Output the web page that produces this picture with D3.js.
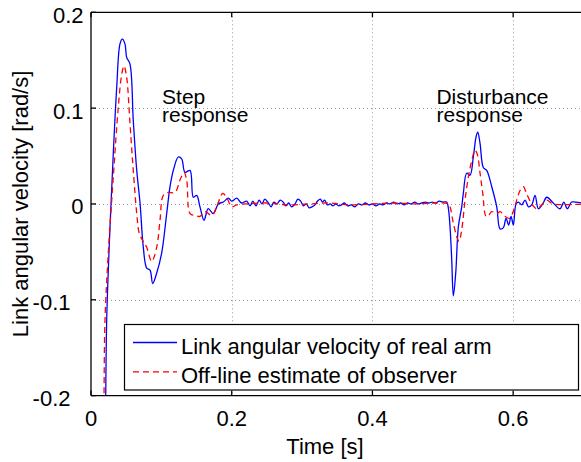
<!DOCTYPE html>
<html>
<head>
<meta charset="utf-8">
<script src="https://cdn.jsdelivr.net/npm/d3@7"></script>
<style>
  body { margin: 0; background: #fff; }
  text { font-family: "Liberation Sans", Arial, sans-serif; fill: #000; }
</style>
</head>
<body>
<div id="content"></div>
<script>
// tick values
const xTicks = [0, 0.2, 0.4, 0.6];
const yTicks = [-0.2, -0.1, 0, 0.1, 0.2];

// link angular velocity of real arm [t, v]
const realArm = [
  [0.0195,-0.26],[0.0209,-0.2],[0.0223,-0.121],[0.0270,-0.024],[0.0317,0.053],[0.0365,0.121],
  [0.0412,0.167],[0.0445,0.172],[0.0483,0.167],[0.0507,0.153],[0.0554,0.146],[0.0601,0.087],
  [0.0650,0.035],[0.0697,0.001],[0.0743,-0.045],[0.0792,-0.067],[0.0839,-0.069],[0.0877,-0.083],
  [0.0934,-0.072],[0.1005,-0.051],[0.1076,-0.010],[0.1123,0.018],[0.1170,0.035],[0.1241,0.049],
  [0.1289,0.047],[0.1336,0.033],[0.1407,0.035],[0.1454,0.007],[0.1502,0.009],[0.1549,-0.003],
  [0.1606,-0.017],[0.1667,-0.005],[0.1738,-0.010],[0.1810,0.000],[0.1881,0.002],[0.1952,0.006],
  [0.2000,0.003],[0.2071,0.006],[0.2140,0.001],[0.2213,0.003],[0.2260,-0.002],[0.2300,0.003],
  [0.2345,-0.002],[0.2390,0.004],[0.2430,0.000],[0.2470,0.005],[0.2520,0.001],[0.2560,-0.003],
  [0.2600,0.002],[0.2640,0.000],[0.2690,0.004],[0.2730,0.002],[0.2770,-0.002],[0.2810,0.001],
  [0.2850,-0.003],[0.2900,0.000],[0.2940,0.005],[0.2980,0.003],[0.3020,-0.002],[0.3060,0.000],
  [0.3100,-0.004],[0.3140,-0.003],[0.3180,-0.001],[0.3220,0.003],[0.3260,0.005],[0.3290,0.002],
  [0.3320,0.004],[0.3360,-0.001],[0.3400,0.000],[0.3440,-0.002],[0.3480,0.000],[0.3520,-0.002],
  [0.3560,-0.001],[0.3600,0.001],[0.3650,-0.002],[0.3700,-0.001],[0.3750,-0.003],[0.3800,0.000],
  [0.3850,-0.001],[0.3900,0.001],[0.3950,-0.001],[0.4000,0.000],[0.4050,-0.002],[0.4100,0.000],
  [0.4150,-0.001],[0.4200,0.001],[0.4250,0.000],[0.4300,0.002],[0.4350,0.000],[0.4400,0.001],
  [0.4450,-0.001],[0.4500,0.001],[0.4550,0.000],[0.4600,0.002],[0.4650,0.000],[0.4700,0.001],
  [0.4750,0.002],[0.4800,0.001],[0.4850,0.002],[0.4900,0.001],[0.4950,0.003],[0.5000,0.002],
  [0.5056,0.002],[0.5080,-0.005],[0.5103,-0.024],[0.5127,-0.058],[0.5150,-0.096],[0.5184,-0.072],
  [0.5221,-0.024],[0.5269,-0.003],[0.5292,0.011],[0.5340,0.032],[0.5387,0.030],[0.5434,0.049],
  [0.5473,0.070],[0.5497,0.075],[0.5530,0.063],[0.5576,0.038],[0.5624,0.035],[0.5696,0.018],
  [0.5767,-0.003],[0.5814,-0.026],[0.5860,-0.025],[0.5899,-0.015],[0.5937,-0.022],[0.5970,-0.013],
  [0.6003,-0.022],[0.6041,0.000],[0.6075,0.002],[0.6122,-0.001],[0.6170,0.004],[0.6217,-0.003],
  [0.6264,-0.001],[0.6311,0.009],[0.6359,-0.005],[0.6420,0.000],[0.6478,0.007],[0.6570,0.001],
  [0.6667,-0.005],[0.6720,0.002],[0.6770,-0.005],[0.6830,0.002],[0.6880,0.002],[0.6970,0.001],
  [0.7000,0.000]
];

// off-line estimate of observer [t, v]
const observer = [
  [0.0178,-0.26],[0.0185,-0.2],[0.0199,-0.121],[0.0246,-0.051],[0.0317,0.028],[0.0388,0.101],
  [0.0436,0.135],[0.0469,0.144],[0.0507,0.132],[0.0554,0.084],[0.0601,0.035],[0.0650,-0.010],
  [0.0687,-0.031],[0.0743,-0.039],[0.0790,-0.045],[0.0863,-0.060],[0.0934,-0.045],[0.0981,-0.017],
  [0.1028,0.009],[0.1099,0.012],[0.1194,0.012],[0.1265,0.025],[0.1322,0.033],[0.1360,0.025],
  [0.1407,-0.010],[0.1478,-0.012],[0.1549,-0.013],[0.1620,-0.008],[0.1716,-0.012],[0.1786,-0.003],
  [0.1872,0.011],[0.1940,0.005],[0.2000,-0.003],[0.2071,-0.001],[0.2200,0.000],[0.2500,0.001],
  [0.2800,-0.001],[0.3100,0.000],[0.3400,0.001],[0.3700,-0.001],[0.4000,0.000],[0.4300,0.001],
  [0.4600,0.000],[0.4900,0.001],[0.5080,0.000],[0.5103,-0.003],[0.5150,-0.020],[0.5198,-0.034],
  [0.5231,-0.039],[0.5269,-0.027],[0.5316,0.004],[0.5363,0.028],[0.5411,0.045],[0.5458,0.056],
  [0.5490,0.052],[0.5530,0.032],[0.5568,0.011],[0.5615,-0.013],[0.5650,-0.012],[0.5696,-0.008],
  [0.5767,-0.010],[0.5814,-0.008],[0.5885,-0.013],[0.5946,-0.015],[0.5990,-0.010],[0.6051,0.004],
  [0.6098,0.014],[0.6145,0.018],[0.6190,0.011],[0.6264,0.000],[0.6335,-0.005],[0.6406,-0.001],
  [0.6478,0.004],[0.6570,0.000],[0.7000,0.000]
];

const legendLabels = ["Link angular velocity of real arm", "Off-line estimate of observer"];

const width = 581, height = 462;
const mLeft = 91, mRight = 583.5, mTop = 12.3, mBottom = 395.6;

const svg = d3.select("#content").append("svg")
  .attr("width", width).attr("height", height);

const x = d3.scaleLinear().domain([0, 0.7]).range([mLeft, mRight]);
const y = d3.scaleLinear().domain([-0.2, 0.2]).range([mBottom, mTop]);

// grid
const grid = svg.append("g").attr("stroke", "#9a9a9a").attr("stroke-width", 1)
  .attr("stroke-dasharray", "1,3");
grid.selectAll(".gx").data(xTicks.filter(d => d > 0)).enter().append("line")
  .attr("x1", d => Math.round(x(d)) + 0.5).attr("x2", d => Math.round(x(d)) + 0.5)
  .attr("y1", mTop).attr("y2", mBottom);
grid.selectAll(".gy").data(yTicks.filter(d => d > -0.2 && d < 0.2)).enter().append("line")
  .attr("y1", d => Math.round(y(d)) + 0.5).attr("y2", d => Math.round(y(d)) + 0.5)
  .attr("x1", mLeft).attr("x2", mRight);

// curves
svg.append("clipPath").attr("id", "clip").append("rect")
  .attr("x", mLeft).attr("y", mTop).attr("width", mRight - mLeft).attr("height", mBottom - mTop);

const line = d3.line().x(d => x(d[0])).y(d => y(d[1])).curve(d3.curveCatmullRom.alpha(0.5));

svg.append("path").datum(realArm)
  .attr("clip-path", "url(#clip)")
  .attr("fill", "none").attr("stroke", "#0000ff").attr("stroke-width", 1.3)
  .attr("d", line);

svg.append("path").datum(observer)
  .attr("clip-path", "url(#clip)")
  .attr("fill", "none").attr("stroke", "#ff0000").attr("stroke-width", 1.3)
  .attr("stroke-dasharray", "6,4")
  .attr("d", line);

// axes box
const ax = svg.append("g").attr("stroke", "#000").attr("stroke-width", 1.3).attr("fill", "none");
ax.append("line").attr("x1", mLeft).attr("x2", mLeft).attr("y1", mTop).attr("y2", mBottom);
ax.append("line").attr("x1", mLeft).attr("x2", mRight).attr("y1", mBottom).attr("y2", mBottom);
ax.append("line").attr("x1", mLeft).attr("x2", mRight).attr("y1", mTop).attr("y2", mTop);

// inward ticks
ax.selectAll(".tb").data(xTicks).enter().append("line")
  .attr("x1", d => x(d)).attr("x2", d => x(d)).attr("y1", mBottom).attr("y2", mBottom - 5);
ax.selectAll(".tt").data(xTicks).enter().append("line")
  .attr("x1", d => x(d)).attr("x2", d => x(d)).attr("y1", mTop).attr("y2", mTop + 5);
ax.selectAll(".tl").data(yTicks).enter().append("line")
  .attr("y1", d => y(d)).attr("y2", d => y(d)).attr("x1", mLeft).attr("x2", mLeft + 5);

// tick labels (plain hyphen minus like the original)
svg.selectAll(".xl").data(xTicks).enter().append("text")
  .attr("x", d => x(d)).attr("y", 425.5)
  .attr("text-anchor", "middle").attr("font-size", 22)
  .text(d => String(d));

svg.selectAll(".yl").data(yTicks).enter().append("text")
  .attr("x", d => d < 0 ? 70.5 : 83.5).attr("y", d => y(d) + 10.5)
  .attr("text-anchor", "end").attr("font-size", 22)
  .text(d => String(d));

// axis labels
svg.append("text").attr("x", 325).attr("y", 454)
  .attr("text-anchor", "middle").attr("font-size", 22).text("Time [s]");

svg.append("text").attr("transform", "translate(28," + ((mTop + mBottom) / 2) + ") rotate(-90)")
  .attr("text-anchor", "middle").attr("font-size", 22).text("Link angular velocity [rad/s]");

// annotations
const ann = [
  { t: 0.101, lines: ["Step", "response"] },
  { t: 0.491, lines: ["Disturbance", "response"] }
];
ann.forEach(a => {
  a.lines.forEach((s, i) => {
    svg.append("text").attr("font-size", 21)
      .attr("x", x(a.t)).attr("y", 104 + i * 18).text(s);
  });
});

// legend
const lg = svg.append("g");
lg.append("rect").attr("x", 124.5).attr("y", 324.5).attr("width", 454).attr("height", 65.5)
  .attr("fill", "#fff").attr("stroke", "#000").attr("stroke-width", 1.2);
const legendStyles = [
  { color: "#0000ff", dash: null },
  { color: "#ff0000", dash: "6,4" }
];
legendLabels.forEach((s, i) => {
  const cy = 342.5 + i * 29.3;
  lg.append("line").attr("x1", 133).attr("x2", 177).attr("y1", cy).attr("y2", cy)
    .attr("stroke", legendStyles[i].color).attr("stroke-width", 1.3)
    .attr("stroke-dasharray", legendStyles[i].dash);
  lg.append("text").attr("x", 181).attr("y", cy + 11).attr("font-size", 22).text(s);
});
</script>
</body>
</html>
